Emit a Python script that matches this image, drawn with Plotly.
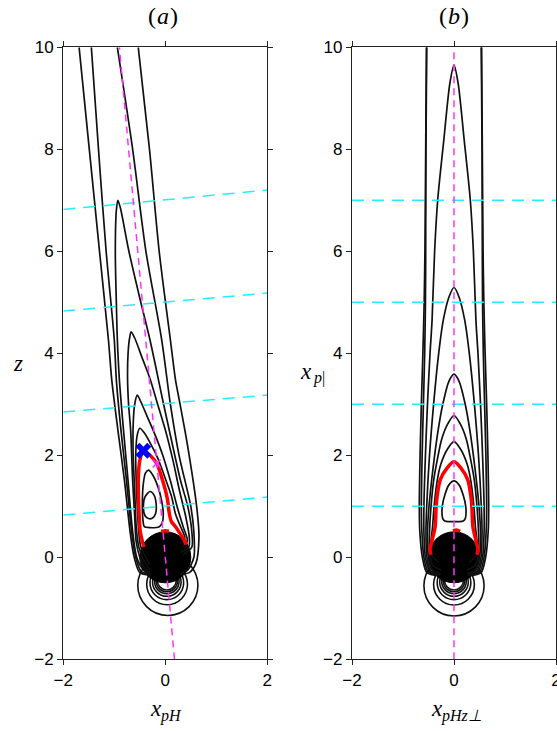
import plotly.graph_objects as go

W, H = 557, 731

# ---------------- panel (a) data: contour paths (x_pH, z) ----------------
a_l1_x = [-1.69, -1.49, -1.29, -1.115, -1.05, -0.93, -0.80, -0.69, -0.61, -0.50, -0.30]
a_l1_z = [10, 8, 6, 4.26, 3.48, 2.5, 1.5, 0.5, 0.0, -0.30, -0.35]
a_l2_x = [-1.45, -1.31, -1.16, -1.00, -0.96, -0.87, -0.76, -0.66, -0.58, -0.47, -0.28]
a_l2_z = [10, 8, 6, 4.26, 3.48, 2.5, 1.5, 0.5, 0.0, -0.28, -0.34]
a_l3_x = [-0.94, -0.64, -0.38, -0.07, 0.10, 0.27, 0.50, 0.56, 0.56, 0.44, 0.30]
a_l3_z = [10, 8, 6, 4.26, 3.0, 2.0, 1.0, 0.5, 0.0, -0.25, -0.30]
a_l4_x = [-0.53, -0.31, -0.12, 0.10, 0.20, 0.29, 0.44, 0.62, 0.66, 0.60, 0.47, 0.30]
a_l4_z = [10, 8, 6, 4.26, 3.48, 3.0, 2.17, 0.95, 0.4, -0.12, -0.30, -0.33]
a_c2_x = [-0.30, -0.45, -0.56, -0.64, -0.73, -0.82, -0.90, -0.94, -0.96, -0.98, -0.96, -0.93,
          -0.88, -0.72, -0.49, -0.30, -0.05, 0.12, 0.30, 0.44, 0.52, 0.52, 0.35]
a_c2_z = [-0.33, -0.22, 0.0, 0.5, 1.5, 2.5, 3.48, 4.26, 5.0, 6.0, 6.8, 7.0,
          6.85, 6.03, 5.04, 4.26, 3.08, 2.3, 1.5, 1.0, 0.5, 0.2, 0.05]
a_c3_x = [-0.30, -0.42, -0.50, -0.57, -0.60, -0.64, -0.68, -0.72, -0.74, -0.73, -0.70, -0.67,
          -0.60, -0.45, -0.30, -0.15, 0.00, 0.15, 0.28, 0.40, 0.47, 0.46, 0.30]
a_c3_z = [-0.30, -0.18, 0.0, 0.3, 0.8, 1.5, 2.5, 3.0, 3.5, 4.0, 4.3, 4.42,
          4.3, 3.9, 3.5, 3.0, 2.5, 1.9, 1.3, 0.8, 0.4, 0.2, 0.1]
a_c4_x = [-0.30, -0.40, -0.52, -0.57, -0.60, -0.63, -0.63, -0.60, -0.55,
          -0.48, -0.35, -0.20, -0.05, 0.10, 0.23, 0.35, 0.43, 0.38]
a_c4_z = [-0.25, -0.10, 0.2, 0.6, 1.3, 2.0, 2.6, 3.0, 3.18,
          3.05, 2.75, 2.4, 2.0, 1.5, 1.0, 0.6, 0.35, 0.15]
a_c5_x = [-0.30, -0.38, -0.48, -0.52, -0.55, -0.57, -0.58, -0.55, -0.50,
          -0.42, -0.30, -0.15, -0.02, 0.12, 0.20, 0.30, 0.38, 0.35]
a_c5_z = [-0.15, 0.0, 0.2, 0.5, 1.0, 1.5, 2.0, 2.4, 2.53,
          2.45, 2.25, 1.95, 1.6, 1.2, 0.85, 0.6, 0.4, 0.2]
a_red_x = [-0.42, -0.49, -0.52, -0.53, -0.50, -0.43, -0.30, -0.17, -0.05, 0.04, 0.08, 0.12, 0.20, 0.30, 0.38, 0.40]
a_red_z = [0.2, 0.5, 1.0, 1.5, 1.9, 2.09, 2.0, 1.84, 1.5, 1.15, 0.85, 0.7, 0.6, 0.45, 0.32, 0.25]
a_redcap_x = [-0.08, 0.0, 0.07]
a_redcap_z = [0.505, 0.52, 0.51]
a_c7_x = [-0.33, -0.25, -0.15, -0.07, -0.04, -0.06, -0.12, -0.30, -0.41, -0.44, -0.45, -0.43, -0.39, -0.33]
a_c7_z = [1.71, 1.62, 1.4, 1.1, 0.85, 0.68, 0.6, 0.58, 0.6, 0.75, 1.1, 1.45, 1.65, 1.71]
a_c8_x = [-0.30, -0.22, -0.18, -0.19, -0.25, -0.33, -0.40, -0.43, -0.40, -0.30]
a_c8_z = [1.29, 1.22, 1.05, 0.86, 0.77, 0.76, 0.82, 1.0, 1.18, 1.29]
a_loop_xc = [0.05, 0.035, 0.03, 0.03, 0.03, 0.03, 0.03]
a_loop_r = [0.59, 0.40, 0.33, 0.28, 0.24, 0.21, 0.185]
a_loop_bottom = [-1.14, -0.93, -0.83, -0.765, -0.715, -0.675, -0.64]
a_cyan_zl = [0.83, 2.85, 4.83, 6.82]
a_cyan_zr = [1.18, 3.18, 5.18, 7.20]
a_mag_x = [0.18, -0.90]
a_mag_z = [-2, 10]
a_blue_x, a_blue_z = [-0.43], [2.09]
a_pink_x, a_pink_z = [-0.17], [1.84]

# ---------------- panel (b) data: right halves (x_pHz_perp, x_p|) ----------------
b_c1_x = [0.54, 0.555, 0.57, 0.585, 0.61, 0.64, 0.665, 0.68, 0.67, 0.62, 0.53, 0.30]
b_c1_z = [10, 8, 6, 5, 4, 3, 2, 1, 0.5, 0.0, -0.30, -0.36]
b_c1b_x = [0.535, 0.55, 0.555, 0.56, 0.575, 0.60, 0.625, 0.64, 0.63, 0.59, 0.50, 0.28]
b_c1b_z = [10, 8, 6, 5, 4, 3, 2, 1, 0.5, 0.0, -0.29, -0.35]
b_c2_x = [0, 0.08, 0.20, 0.32, 0.38, 0.43, 0.47, 0.52, 0.56, 0.59, 0.59, 0.56, 0.47, 0.28]
b_c2_z = [9.65, 9.3, 8.18, 7, 6, 4.65, 4, 3, 2, 1, 0.5, 0, -0.28, -0.34]
b_c3_x = [0, 0.10, 0.21, 0.30, 0.40, 0.48, 0.535, 0.55, 0.53, 0.45, 0.27]
b_c3_z = [5.29, 5.1, 4.65, 4, 3, 2, 1, 0.5, 0, -0.27, -0.33]
b_c4_x = [0, 0.10, 0.22, 0.31, 0.38, 0.44, 0.49, 0.52, 0.50, 0.42, 0.26]
b_c4_z = [3.59, 3.45, 3.0, 2.5, 2.0, 1.5, 1.0, 0.5, 0, -0.25, -0.32]
b_c5_x = [0, 0.12, 0.24, 0.33, 0.40, 0.45, 0.48, 0.48, 0.42, 0.25]
b_c5_z = [2.78, 2.62, 2.32, 1.9, 1.5, 1.0, 0.5, 0.1, -0.15, -0.25]
b_c6_x = [0, 0.13, 0.26, 0.33, 0.39, 0.42, 0.45, 0.44, 0.30]
b_c6_z = [2.27, 2.12, 1.82, 1.5, 1.0, 0.6, 0.3, 0.05, -0.10]
b_red_x = [0, 0.13, 0.27, 0.33, 0.35, 0.37, 0.43, 0.47, 0.45]
b_red_z = [1.88, 1.76, 1.52, 1.2, 1.0, 0.6, 0.33, 0.15, 0.05]
b_redcap_x = [-0.02, 0.05, 0.12]
b_redcap_z = [0.52, 0.535, 0.51]
b_c8_x = [0, 0.10, 0.18, 0.23, 0.235, 0.22, 0.18, 0.10, 0]
b_c8_z = [1.5, 1.42, 1.22, 1.0, 0.85, 0.76, 0.71, 0.70, 0.70]
b_loop_r = [0.59, 0.40, 0.33, 0.28, 0.24, 0.21, 0.185]
b_loop_bottom = [-1.15, -0.935, -0.83, -0.765, -0.715, -0.675, -0.64]
b_cyan_z = [1, 3, 5, 7]

disk_r = 0.5
x_ticks = [-2, 0, 2]
y_ticks = [-2, 0, 2, 4, 6, 8, 10]

BLACK = '#111111'
RED = '#ff0000'
MAG = '#ff33ff'
CYAN = '#22eeff'

fig = go.Figure()


def line(x, z, xa, ya, color=BLACK, width=1.7, dash=None, spline=True):
    fig.add_trace(go.Scatter(
        x=x, y=z, mode='lines', xaxis=xa, yaxis=ya, showlegend=False, hoverinfo='skip',
        line=dict(color=color, width=width, dash=dash,
                  shape='spline' if spline else 'linear', smoothing=0.8)))


def mirror_full(xr, zr):
    xl = [-v for v in reversed(xr)]
    zl = list(reversed(zr))
    return xl + xr[1:], zl + zr[1:]


# ---- panel (a) ----
for xs, zs in [(a_l1_x, a_l1_z), (a_l2_x, a_l2_z), (a_l3_x, a_l3_z), (a_l4_x, a_l4_z),
               (a_c2_x, a_c2_z), (a_c3_x, a_c3_z), (a_c4_x, a_c4_z), (a_c5_x, a_c5_z),
               (a_c7_x, a_c7_z), (a_c8_x, a_c8_z)]:
    line(xs, zs, 'x', 'y')
line(a_red_x, a_red_z, 'x', 'y', color=RED, width=3.5)
line(a_redcap_x, a_redcap_z, 'x', 'y', color=RED, width=3.5)
for zl, zr in zip(a_cyan_zl, a_cyan_zr):
    line([-2, 2], [zl, zr], 'x', 'y', color=CYAN, width=1.5, dash='12px,8px', spline=False)
line(a_mag_x, a_mag_z, 'x', 'y', color=MAG, width=1.5, dash='7px,5px', spline=False)
fig.add_trace(go.Scatter(x=a_pink_x, y=a_pink_z, mode='markers', xaxis='x', yaxis='y',
                         showlegend=False, hoverinfo='skip',
                         marker=dict(symbol='x-thin', size=8, line=dict(color=MAG, width=1.5))))
fig.add_trace(go.Scatter(x=a_blue_x, y=a_blue_z, mode='markers', xaxis='x', yaxis='y',
                         showlegend=False, hoverinfo='skip',
                         marker=dict(symbol='x', size=14, color='#0000ff')))

# ---- panel (b) ----
for xs, zs in [(b_c1_x, b_c1_z), (b_c1b_x, b_c1b_z)]:
    line(xs, zs, 'x2', 'y2')
    line([-v for v in xs], zs, 'x2', 'y2')
for xs, zs in [(b_c2_x, b_c2_z), (b_c3_x, b_c3_z), (b_c4_x, b_c4_z),
               (b_c5_x, b_c5_z), (b_c6_x, b_c6_z)]:
    fx, fz = mirror_full(xs, zs)
    line(fx, fz, 'x2', 'y2')
c8x = b_c8_x + [-v for v in reversed(b_c8_x)][1:]
c8z = b_c8_z + list(reversed(b_c8_z))[1:]
line(c8x, c8z, 'x2', 'y2')
rx, rz = mirror_full(b_red_x, b_red_z)
line(rx, rz, 'x2', 'y2', color=RED, width=3.5)
line(b_redcap_x, b_redcap_z, 'x2', 'y2', color=RED, width=3.5)
for zc in b_cyan_z:
    line([-2, 2], [zc, zc], 'x2', 'y2', color=CYAN, width=1.5, dash='12px,8px', spline=False)
line([0, 0], [-2, 10], 'x2', 'y2', color=MAG, width=1.5, dash='7px,5px', spline=False)

# ---- shapes: loops below the obstacle, and the black obstacle disk ----
shapes = []
for xc, r, zb in zip(a_loop_xc, a_loop_r, a_loop_bottom):
    zc = zb + r
    shapes.append(dict(type='circle', xref='x', yref='y', x0=xc - r, x1=xc + r, y0=zc - r, y1=zc + r,
                       line=dict(color=BLACK, width=1.6), layer='below'))
for r, zb in zip(b_loop_r, b_loop_bottom):
    zc = zb + r
    shapes.append(dict(type='circle', xref='x2', yref='y2', x0=-r, x1=r, y0=zc - r, y1=zc + r,
                       line=dict(color=BLACK, width=1.6), layer='below'))
for xr_, yr_ in [('x', 'y'), ('x2', 'y2')]:
    shapes.append(dict(type='circle', xref=xr_, yref=yr_, x0=-disk_r, x1=disk_r, y0=-disk_r, y1=disk_r,
                       fillcolor='black', line=dict(color='black', width=1), layer='below'))

# ---- layout ----
px_ax = (63.3, 267.3)
px_bx = (352.0, 556.0)
py_top, py_bot = 47.3, 659.3
tickfont = dict(family='Liberation Sans', size=17, color='black')
axcommon = dict(showline=True, linecolor='#222', linewidth=1.3, mirror='ticks', ticks='outside',
                ticklen=5, tickwidth=1.2, tickcolor='#222', showgrid=False, zeroline=False,
                tickfont=tickfont, automargin=False, fixedrange=True, ticklabeloverflow='allow')
ydom = [1 - py_bot / H, 1 - py_top / H]

fig.update_layout(
    width=W, height=H, margin=dict(l=0, r=0, t=0, b=0),
    paper_bgcolor='white', plot_bgcolor='white', template='none', showlegend=False,
    xaxis=dict(domain=[px_ax[0] / W, px_ax[1] / W], range=[-2, 2], tickvals=x_ticks, anchor='y', **axcommon),
    yaxis=dict(domain=ydom, range=[-2, 10], tickvals=y_ticks, anchor='x', **axcommon),
    xaxis2=dict(domain=[px_bx[0] / W, px_bx[1] / W], range=[-2, 2], tickvals=x_ticks, anchor='y2', **axcommon),
    yaxis2=dict(domain=ydom, range=[-2, 10], tickvals=y_ticks, anchor='x2', **axcommon),
    shapes=shapes,
)

SERIF = 'Liberation Serif'


def label(text, px, py, size=23, italic=True):
    fig.add_annotation(text=text, x=px / W, y=1 - py / H, xref='paper', yref='paper',
                       showarrow=False,
                       font=dict(family=SERIF, size=size, color='black',
                                 style='italic' if italic else 'normal'),
                       xanchor='center', yanchor='middle')


# panel titles (a), (b): upright parentheses, italic letter
for cx, letter in [(163, 'a'), (454, 'b')]:
    label('(', cx - 11, 16, size=24, italic=False)
    label(letter, cx, 16, size=24)
    label(')', cx + 11, 16, size=24, italic=False)

# axis labels
label('z', 18, 363)
label('x', 306, 371)
label('p', 317, 378, size=16)
label('|', 323, 378, size=16, italic=False)
label('x', 156, 708)
label('pH', 171, 716, size=16)
label('x', 437, 708)
label('pHz⊥', 461, 716, size=16)

fig.write_html('out.html')
